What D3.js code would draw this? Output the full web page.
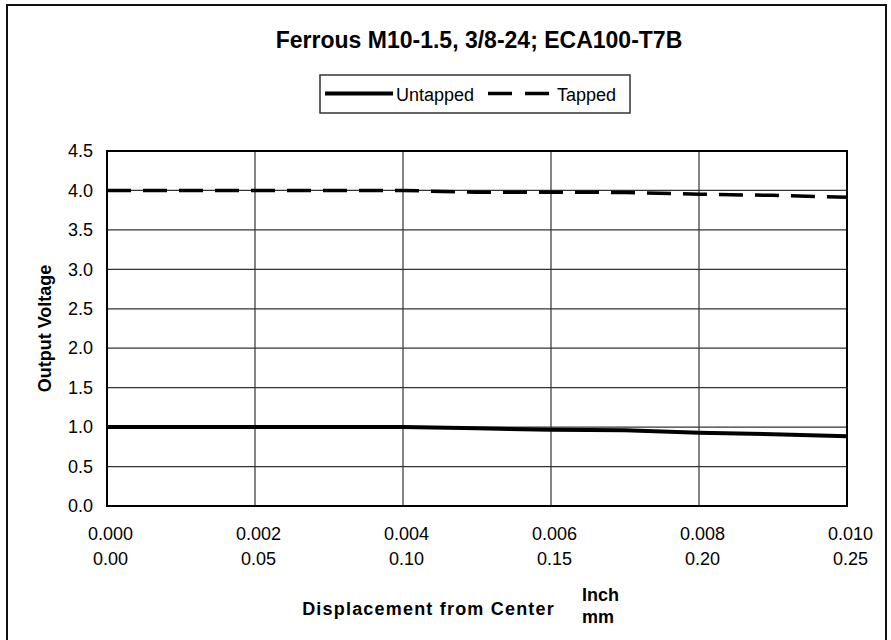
<!DOCTYPE html>
<html>
<head>
<meta charset="utf-8">
<script src="https://cdn.jsdelivr.net/npm/d3@7"></script>
<style>
  body { margin: 0; background: #fff; }
  svg { display: block; font-family: "Liberation Sans", Arial, sans-serif; }
</style>
</head>
<body>
<div id="chart"></div>
<script>
// displacement from center, inch
var inches = [0, 0.001, 0.002, 0.003, 0.004, 0.005, 0.006, 0.007, 0.008, 0.009, 0.010];
var untapped = [1.0, 1.0, 1.0, 1.0, 1.0, 0.985, 0.965, 0.96, 0.93, 0.91, 0.885];
var tapped = [4.0, 4.0, 4.0, 4.0, 4.0, 3.977, 3.977, 3.975, 3.952, 3.938, 3.913];

var inchTicks = [0, 0.002, 0.004, 0.006, 0.008, 0.010];
var mmLabels = ['0.00', '0.05', '0.10', '0.15', '0.20', '0.25'];
var voltTicks = [0, 0.5, 1, 1.5, 2, 2.5, 3, 3.5, 4, 4.5];

var seriesNames = ['Untapped', 'Tapped'];

(function() {
  var width = 891,
      height = 640,
      plot = {left: 107, right: 847, top: 151, bottom: 506};

  var svg = d3.select('#chart').append('svg')
      .attr('width', width)
      .attr('height', height);

  // outer frame, bottom edge runs off the picture
  svg.append('rect')
      .attr('x', 7).attr('y', 5)
      .attr('width', 879).attr('height', 650)
      .attr('fill', 'none')
      .attr('stroke', '#111')
      .attr('stroke-width', 2);

  var x = d3.scaleLinear().domain([0, 0.010]).range([plot.left, plot.right]);
  var y = d3.scaleLinear().domain([0, 4.5]).range([plot.bottom, plot.top]);

  // grid
  var grid = svg.append('g').attr('stroke', '#333').attr('stroke-width', 1.2);
  grid.selectAll('.hgrid').data(voltTicks)
      .enter().append('line')
          .attr('x1', plot.left).attr('x2', plot.right)
          .attr('y1', function(d) { return y(d); })
          .attr('y2', function(d) { return y(d); });
  grid.selectAll('.vgrid').data(inchTicks)
      .enter().append('line')
          .attr('y1', plot.top).attr('y2', plot.bottom)
          .attr('x1', function(d) { return x(d); })
          .attr('x2', function(d) { return x(d); });

  // y axis labels
  var yAxis = svg.append('g')
      .attr('transform', 'translate(' + plot.left + ',0)')
      .call(d3.axisLeft(y).tickValues(voltTicks).tickSize(0).tickPadding(14)
          .tickFormat(d3.format('.1f')));
  yAxis.select('.domain').remove();
  yAxis.selectAll('text')
      .attr('font-family', '"Liberation Sans", Arial, sans-serif')
      .attr('font-size', 18).attr('fill', '#000');

  // x axis labels, inch row then mm row
  var xAxis = svg.append('g')
      .attr('transform', 'translate(3,' + plot.bottom + ')')
      .call(d3.axisBottom(x).tickValues(inchTicks).tickSize(0).tickPadding(21)
          .tickFormat(d3.format('.3f')));
  xAxis.select('.domain').remove();
  xAxis.selectAll('text')
      .attr('font-family', '"Liberation Sans", Arial, sans-serif')
      .attr('font-size', 18).attr('fill', '#000');

  var xAxisMm = svg.append('g')
      .attr('transform', 'translate(3,' + (plot.bottom + 25) + ')')
      .call(d3.axisBottom(x).tickValues(inchTicks).tickSize(0).tickPadding(21)
          .tickFormat(function(d, i) { return mmLabels[i]; }));
  xAxisMm.select('.domain').remove();
  xAxisMm.selectAll('text')
      .attr('font-family', '"Liberation Sans", Arial, sans-serif')
      .attr('font-size', 18).attr('fill', '#000');

  // series
  var line = d3.line()
      .x(function(d) { return x(d[0]); })
      .y(function(d) { return y(d[1]); });

  svg.append('path')
      .datum(d3.zip(inches, untapped))
      .attr('d', line)
      .attr('fill', 'none')
      .attr('stroke', '#000')
      .attr('stroke-width', 4);

  svg.append('path')
      .datum(d3.zip(inches, tapped))
      .attr('d', line)
      .attr('fill', 'none')
      .attr('stroke', '#000')
      .attr('stroke-width', 3.5)
      .attr('stroke-dasharray', '24,12');

  // plot frame
  svg.append('rect')
      .attr('x', plot.left).attr('y', plot.top)
      .attr('width', plot.right - plot.left)
      .attr('height', plot.bottom - plot.top)
      .attr('fill', 'none')
      .attr('stroke', '#000')
      .attr('stroke-width', 2);

  // title
  svg.append('text')
      .attr('x', (plot.left + plot.right) / 2 + 2).attr('y', 47.5)
      .attr('text-anchor', 'middle')
      .attr('font-size', 23).attr('font-weight', 'bold')
      .text('Ferrous M10-1.5, 3/8-24; ECA100-T7B');

  // legend
  var legend = svg.append('g');
  legend.append('rect')
      .attr('x', 320).attr('y', 75)
      .attr('width', 310).attr('height', 38)
      .attr('fill', '#fff')
      .attr('stroke', '#333')
      .attr('stroke-width', 1.5);
  legend.append('line')
      .attr('x1', 325).attr('x2', 393).attr('y1', 93.5).attr('y2', 93.5)
      .attr('stroke', '#000').attr('stroke-width', 4);
  legend.append('text')
      .attr('x', 396).attr('y', 100.5)
      .attr('font-size', 18)
      .text(seriesNames[0]);
  legend.append('line')
      .attr('x1', 488).attr('x2', 550).attr('y1', 93.5).attr('y2', 93.5)
      .attr('stroke', '#000').attr('stroke-width', 3.5)
      .attr('stroke-dasharray', '24,13');
  legend.append('text')
      .attr('x', 557).attr('y', 100.5)
      .attr('font-size', 18)
      .text(seriesNames[1]);

  // axis titles
  svg.append('text')
      .attr('transform', 'translate(51,' + ((plot.top + plot.bottom) / 2) + ') rotate(-90)')
      .attr('text-anchor', 'middle')
      .attr('font-size', 18).attr('font-weight', 'bold')
      .text('Output Voltage');

  svg.append('text')
      .attr('x', 555).attr('y', 615)
      .attr('text-anchor', 'end')
      .attr('font-size', 18).attr('font-weight', 'bold')
      .attr('letter-spacing', 1.2)
      .text('Displacement from Center');

  svg.append('text')
      .attr('x', 582).attr('y', 601)
      .attr('font-size', 18).attr('font-weight', 'bold')
      .text('Inch');
  svg.append('text')
      .attr('x', 582).attr('y', 623)
      .attr('font-size', 18).attr('font-weight', 'bold')
      .text('mm');
})();
</script>
</body>
</html>
